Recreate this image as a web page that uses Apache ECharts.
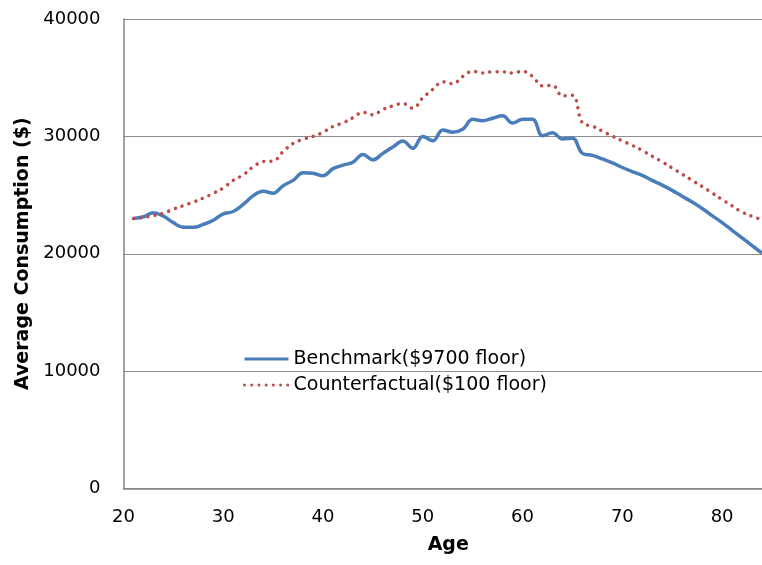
<!DOCTYPE html>
<html>
<head>
<meta charset="UTF-8">
<title></title>
<script src="https://cdn.jsdelivr.net/npm/echarts@6/dist/echarts.min.js"></script>
<style>
  body { margin: 0; background: #fff; }
  #chart { width: 762px; height: 565px; }
</style>
</head>
<body>
<div id="chart"></div>
<script>
var ages = [21, 22, 23, 24, 25, 26, 27, 28, 29, 30,
  31, 32, 33, 34, 35, 36, 37, 38, 39, 40,
  41, 42, 43, 44, 45, 46, 47, 48, 49, 50,
  51, 52, 53, 54, 55, 56, 57, 58, 59, 60,
  61, 62, 63, 64, 65, 66, 67, 68, 69, 70,
  71, 72, 73, 74, 75, 76, 77, 78, 79, 80,
  81, 82, 83, 84];

// Benchmark($9700 floor)
var benchmark = [23000, 23150, 23500, 23200, 22650, 22250, 22250, 22500, 22850, 23400,
  23600, 24200, 24950, 25330, 25150, 25800, 26250, 26900, 26850, 26650,
  27250, 27550, 27800, 28450, 28000, 28550, 29100, 29600, 28970, 30000,
  29620, 30550, 30350, 30600, 31450, 31330, 31550, 31750, 31130, 31450,
  31450, 30050, 30300, 29780, 29850, 28550, 28380, 28080, 27750, 27350,
  27000, 26680, 26250, 25850, 25400, 24900, 24400, 23850, 23250, 22650,
  22000, 21350, 20700, 20050];

// Counterfactual($100 floor)
var counterfactual = [23000, 23100, 23250, 23450, 23800, 24100, 24400, 24750, 25150, 25600,
  26250, 26720, 27400, 27860, 27900, 28700, 29400, 29750, 30000, 30350,
  30850, 31150, 31590, 32050, 31830, 32300, 32600, 32800, 32400, 33300,
  34000, 34650, 34480, 35100, 35550, 35400, 35500, 35500, 35400, 35550,
  35100, 34300, 34350, 33450, 33500, 31150, 30880, 30450, 30020, 29620,
  29230, 28800, 28300, 27830, 27300, 26780, 26250, 25730, 25180, 24620,
  24080, 23550, 23200, 22900];

var seriesNames = ['Benchmark($9700 floor)', 'Counterfactual($100 floor)'];

function pairs(xs, ys) {
  var out = [];
  for (var i = 0; i < xs.length; i++) {
    out.push([xs[i], ys[i]]);
  }
  return out;
}

var font = 'DejaVu Sans';
var chart = echarts.init(document.getElementById('chart'));
var option = {
  animation: false,
  backgroundColor: '#fff',
  grid: {
    left: 123.5,
    right: 0,
    top: 19,
    bottom: 76.5,
    outerBoundsMode: 'none'
  },
  legend: {
    orient: 'vertical',
    left: 238,
    top: 344,
    itemWidth: 44,
    itemHeight: 14,
    itemGap: 6,
    itemStyle: { opacity: 0 },
    lineStyle: { width: 3 },
    textStyle: { fontFamily: font, fontSize: 19, color: '#000', lineHeight: 20 },
    data: seriesNames
  },
  xAxis: {
    type: 'value',
    min: 20,
    max: 84,
    interval: 10,
    name: 'Age',
    nameLocation: 'middle',
    nameGap: 47,
    nameTextStyle: { fontFamily: font, fontSize: 19, fontWeight: 'bold', color: '#000', padding: [0, 0, 0, 11] },
    axisLine: { lineStyle: { color: '#868686', width: 1.5 } },
    axisTick: { show: false },
    splitLine: { show: false },
    axisLabel: { fontFamily: font, fontSize: 18, color: '#000', margin: 20, showMaxLabel: false }
  },
  yAxis: {
    type: 'value',
    min: 0,
    max: 40000,
    interval: 10000,
    name: 'Average Consumption ($)',
    nameLocation: 'middle',
    nameGap: 82,
    nameTextStyle: { fontFamily: font, fontSize: 19, fontWeight: 'bold', color: '#000' },
    axisLine: { show: true, lineStyle: { color: '#868686', width: 1.5 } },
    axisTick: { show: false },
    splitLine: { lineStyle: { color: '#8c8c8c', width: 1 } },
    axisLabel: {
      fontFamily: font, fontSize: 18, color: '#000', margin: 23,
      formatter: function (v) { return String(v); }
    }
  },
  series: [{
    name: seriesNames[0],
    type: 'line',
    data: pairs(ages, benchmark),
    smooth: 0.4,
    symbol: 'none',
    itemStyle: { color: '#4a7ebb' },
    lineStyle: { color: '#4a7ebb', width: 3.5 }
  }, {
    name: seriesNames[1],
    type: 'line',
    data: pairs(ages, counterfactual),
    smooth: 0.4,
    symbol: 'none',
    itemStyle: { color: '#be4b48' },
    lineStyle: { color: '#be4b48', width: 3.5, type: [0.01, 7.2], cap: 'round' }
  }]
};
chart.setOption(option);
</script>
</body>
</html>
